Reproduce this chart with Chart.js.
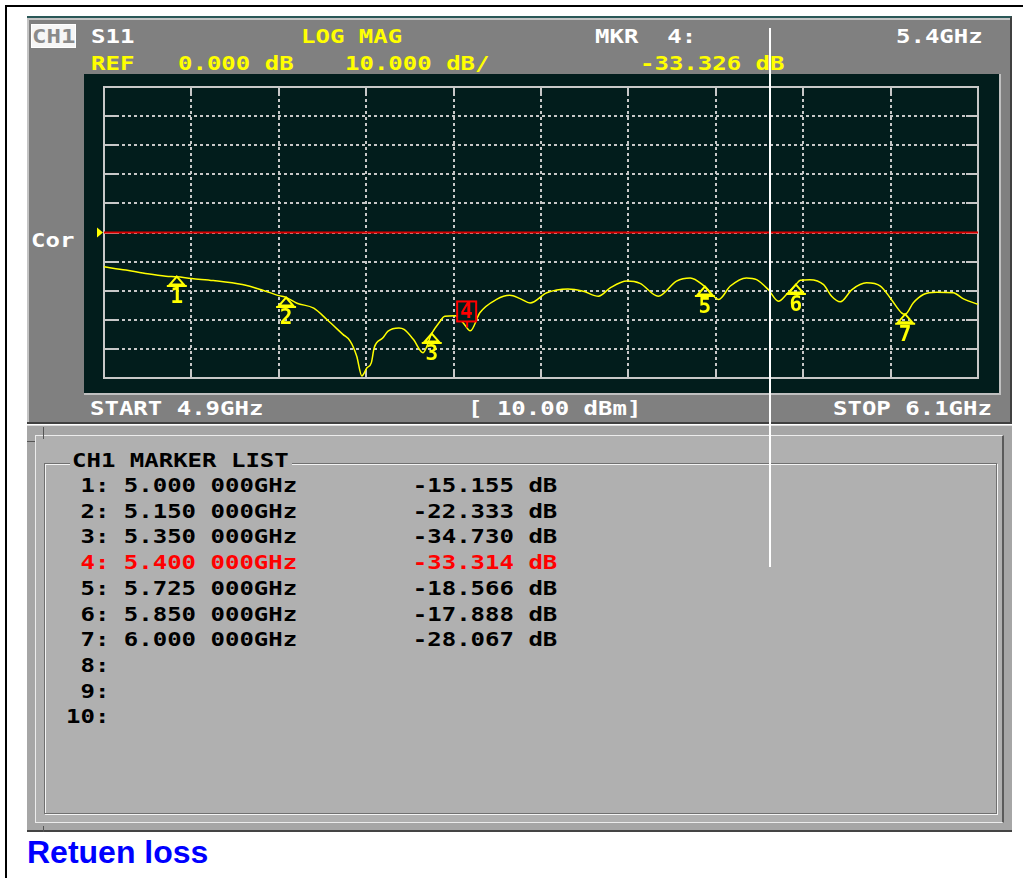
<!DOCTYPE html>
<html>
<head>
<meta charset="utf-8">
<script src="https://cdn.jsdelivr.net/npm/chart.js@4.4.0/dist/chart.umd.min.js"></script>
<style>
  body { margin: 0; width: 1023px; height: 878px; background: #fff; position: relative; overflow: hidden; }
  .abs { position: absolute; box-sizing: border-box; }
  .t { position: absolute; font: bold 20px "DejaVu Sans Mono", monospace; line-height: 20px;
       white-space: pre; transform-origin: 0 0; transform: scaleX(1.2); }
  .w { color: #ffffff; }
  .y { color: #ffff00; }
  .k { color: #000000; }
  .r { color: #ff0000; }
</style>
</head>
<body>

<!-- page frame -->
<div class="abs" style="left:5px;top:5px;width:1030px;height:900px;border-left:2px solid #000;border-top:2px solid #000;"></div>

<!-- upper instrument panel -->
<div class="abs" style="left:27px;top:16px;width:985px;height:408px;background:#808080;border-top:2px solid #2a5858;border-right:2px solid #404040;border-bottom:2px solid #404040;box-shadow:inset 2px 2px 0 #c4c4c4;"></div>
<div class="abs" style="left:31px;top:24px;width:45px;height:24px;background:#f6f6f6;border:1px solid #ffffff;"></div>
<div class="t" style="left:32px;top:26px;color:#8a8a8a;">CH1</div>
<div class="t w" style="left:91px;top:26px;">S11</div>
<div class="t y" style="left:301px;top:26px;">LOG MAG</div>
<div class="t w" style="left:595px;top:26px;">MKR  4:</div>
<div class="t w" style="left:896px;top:26px;">5.4GHz</div>
<div class="t y" style="left:91px;top:53px;">REF</div>
<div class="t y" style="left:178px;top:53px;">0.000 dB</div>
<div class="t y" style="left:345px;top:53px;">10.000 dB/</div>
<div class="t y" style="left:640px;top:53px;">-33.326 dB</div>
<div class="t w" style="left:31px;top:230px;">Cor</div>
<div class="t w" style="left:90px;top:398px;">START 4.9GHz</div>
<div class="t w" style="left:468px;top:398px;">[ 10.00 dBm]</div>
<div class="t w" style="left:833px;top:398px;">STOP 6.1GHz</div>

<!-- display area -->
<div class="abs" style="left:84px;top:74px;width:917px;height:321px;background:#021d1c;border-right:2px solid #c0c0c0;border-bottom:2px solid #c0c0c0;">
  <canvas id="vna" width="915" height="319" style="display:block;"></canvas>
</div>

<!-- lower marker list panel -->
<div class="abs" style="left:27px;top:425px;width:985px;height:407px;background:#a6a6a6;border-top:1px solid #dcdcdc;border-bottom:2px solid #444;"></div>
<div class="abs" style="left:35px;top:435px;width:969px;height:388px;background:#b0b0b0;border-top:1px solid #ececec;border-left:1px solid #ececec;border-right:2px solid #5a5a5a;border-bottom:1px solid #ececec;"></div>
<div class="abs" style="left:44px;top:463px;width:953px;height:351px;border:1px solid #707070;box-shadow:inset 1px 1px 0 #f4f4f4, 1px 1px 0 #f4f4f4;"></div>
<div class="abs" style="left:43px;top:427px;width:1px;height:12px;background:#555;"></div>
<div class="abs" style="left:27px;top:441px;width:8px;height:1px;background:#555;"></div>
<div class="abs" style="left:43px;top:826px;width:1px;height:6px;background:#555;"></div>
<div class="abs" style="left:70px;top:452px;width:222px;height:18px;background:#b0b0b0;"></div>
<div class="t k" style="left:72px;top:450px;">CH1 MARKER LIST</div>
<div id="mlist"></div>

<!-- cursor line -->
<div class="abs" style="left:769px;top:28px;width:2px;height:539px;background:#ffffff;z-index:10;"></div>

<div class="abs" style="left:27px;top:836px;font:bold 32px 'Liberation Sans', Arial, sans-serif;line-height:32px;color:#0000ff;white-space:pre;">Retuen loss</div>

<script>
const startFreq = 4.9;
const stopFreq = 6.1;
const refLevel = 0;

const xTicks = [4.90, 5.02, 5.14, 5.26, 5.38, 5.50, 5.62, 5.74, 5.86, 5.98, 6.10];
const yTicks = [-50, -40, -30, -20, -10, 0, 10, 20, 30, 40, 50];

// S11 trace
const traceFreq = [4.900, 4.930, 4.960, 4.985, 5.000, 5.020, 5.050, 5.090, 5.115, 5.140,
                   5.150, 5.165, 5.188, 5.206, 5.228, 5.238, 5.247, 5.254, 5.261, 5.267,
                   5.271, 5.283, 5.290, 5.305, 5.312, 5.325, 5.338, 5.350, 5.360, 5.368,
                   5.382, 5.393, 5.400, 5.403, 5.416, 5.439, 5.457, 5.472, 5.485, 5.508,
                   5.537, 5.558, 5.579, 5.595, 5.618, 5.636, 5.661, 5.686, 5.705, 5.725,
                   5.744, 5.760, 5.782, 5.796, 5.812, 5.826, 5.837, 5.850, 5.856, 5.869,
                   5.888, 5.899, 5.911, 5.927, 5.947, 5.966, 5.981, 5.995, 6.000, 6.011,
                   6.025, 6.043, 6.066, 6.080, 6.100];
const traceDb = [-11.8, -12.9, -14.2, -15.0, -15.2, -15.8, -16.5, -17.9, -19.6, -21.7,
                 -22.3, -24.3, -26.0, -29.9, -35.0, -37.3, -42.5, -49.3, -46.5, -44.8,
                 -39.6, -36.2, -33.9, -32.8, -33.3, -36.8, -41.3, -34.7, -31.0, -28.8,
                 -28.6, -31.0, -33.3, -33.8, -27.6, -23.0, -21.6, -22.8, -24.2, -20.7,
                 -19.4, -20.2, -21.9, -19.0, -16.7, -17.5, -21.9, -16.7, -15.6, -18.6,
                 -23.0, -18.4, -15.6, -16.2, -19.6, -23.6, -21.3, -17.9, -16.4, -16.2,
                 -17.9, -21.9, -23.8, -19.6, -17.3, -18.4, -23.0, -27.6, -28.1, -24.2,
                 -21.3, -20.5, -20.7, -22.8, -24.7];

const markerNo = [1, 2, 3, 4, 5, 6, 7];
const markerFreq = [5.000, 5.150, 5.350, 5.400, 5.725, 5.850, 6.000];
const markerDb = [-15.155, -22.333, -34.730, -33.314, -18.566, -17.888, -28.067];
const activeMarker = 4;

// marker list table
const list = document.getElementById("mlist");
for (let i = 0; i < 10; i++) {
  let s = String(i + 1).padStart(2, " ") + ":";
  if (i < markerNo.length) {
    s += " " + markerFreq[i].toFixed(3) + " 000GHz";
    s = s.padEnd(24, " ") + markerDb[i].toFixed(3) + " dB";
  }
  const d = document.createElement("div");
  d.className = "t " + (markerNo[i] === activeMarker ? "r" : "k");
  d.style.left = "66px";
  d.style.top = (475 + i * 25.7) + "px";
  d.textContent = s;
  list.appendChild(d);
}

const DARK = "#021d1c";
const overlay = {
  id: "overlay",
  beforeDatasetsDraw(c) {
    const { ctx, chartArea: a, scales: { x, y } } = c;
    ctx.save();
    ctx.strokeStyle = "#c8c8c8";
    ctx.lineWidth = 2;
    ctx.strokeRect(a.left, a.top, a.width, a.height);
    ctx.beginPath();
    yTicks.forEach(v => {
      const py = Math.round(y.getPixelForValue(v));
      ctx.moveTo(a.left, py); ctx.lineTo(a.left + 12, py);
      ctx.moveTo(a.right - 12, py); ctx.lineTo(a.right, py);
    });
    xTicks.forEach(v => {
      const px = Math.round(x.getPixelForValue(v));
      ctx.moveTo(px, a.top); ctx.lineTo(px, a.top + 6);
      ctx.moveTo(px, a.bottom - 6); ctx.lineTo(px, a.bottom);
    });
    ctx.stroke();
    ctx.restore();
  },
  afterDatasetsDraw(c) {
    const { ctx, chartArea: a, scales: { x, y } } = c;
    ctx.save();
    // reference level pointer
    const ry = y.getPixelForValue(refLevel);
    ctx.fillStyle = "#ffff00";
    ctx.beginPath();
    ctx.moveTo(a.left - 7, ry - 5);
    ctx.lineTo(a.left - 1, ry);
    ctx.lineTo(a.left - 7, ry + 5);
    ctx.closePath();
    ctx.fill();

    ctx.font = 'bold 21px "DejaVu Sans Mono", monospace';
    ctx.textAlign = "center";
    ctx.textBaseline = "middle";
    markerNo.forEach((n, i) => {
      const px = x.getPixelForValue(markerFreq[i]);
      const py = y.getPixelForValue(markerDb[i]);
      if (n === activeMarker) {
        ctx.fillStyle = DARK;
        ctx.fillRect(px - 11, py - 28, 19, 20);
        ctx.strokeStyle = "#ff0000";
        ctx.lineWidth = 2;
        ctx.strokeRect(px - 11, py - 28, 19, 20);
        ctx.beginPath();
        ctx.moveTo(px - 1, py - 8);
        ctx.lineTo(px - 1, py - 2);
        ctx.stroke();
        ctx.fillStyle = "#ff0000";
        ctx.fillText(String(n), px - 1.5, py - 17);
      } else {
        ctx.strokeStyle = "#ffff00";
        ctx.lineWidth = 2;
        ctx.beginPath();
        ctx.moveTo(px, py);
        ctx.lineTo(px + 7, py + 8);
        ctx.lineTo(px - 7, py + 8);
        ctx.closePath();
        ctx.moveTo(px - 10, py + 9.5);
        ctx.lineTo(px + 10, py + 9.5);
        ctx.stroke();
        ctx.fillStyle = "#ffff00";
        ctx.fillText(String(n), px, py + 21);
      }
    });
    ctx.restore();
  }
};

const ctx = document.getElementById("vna").getContext("2d");
const chart = new Chart(ctx, {
  type: "line",
  data: {
    datasets: [
      {
        label: "REF",
        data: [{ x: startFreq, y: refLevel }, { x: stopFreq, y: refLevel }],
        borderColor: "#dd0000",
        borderWidth: 2,
        pointRadius: 0
      },
      {
        label: "S11",
        data: traceFreq.map((f, i) => ({ x: f, y: traceDb[i] })),
        borderColor: "#ffff00",
        borderWidth: 1.5,
        pointRadius: 0,
        cubicInterpolationMode: "monotone"
      }
    ]
  },
  options: {
    responsive: false,
    animation: false,
    devicePixelRatio: 1,
    layout: { padding: { left: 20, right: 21, top: 13, bottom: 15 } },
    plugins: { legend: { display: false }, tooltip: { enabled: false } },
    scales: {
      x: {
        type: "linear", min: startFreq, max: stopFreq,
        afterBuildTicks: s => { s.ticks = xTicks.map(v => ({ value: v })); },
        afterFit: s => { s.height = 0; },
        ticks: { display: false },
        grid: { color: "#c8c8c8", lineWidth: 2, drawTicks: false },
        border: { display: false, dash: [3, 3] }
      },
      y: {
        type: "linear", min: yTicks[0], max: yTicks[yTicks.length - 1],
        afterBuildTicks: s => { s.ticks = yTicks.map(v => ({ value: v })); },
        afterFit: s => { s.width = 0; },
        ticks: { display: false },
        grid: { color: "#c8c8c8", lineWidth: 2, drawTicks: false },
        border: { display: false, dash: [3, 3] }
      }
    }
  },
  plugins: [overlay]
});
</script>
</body>
</html>
